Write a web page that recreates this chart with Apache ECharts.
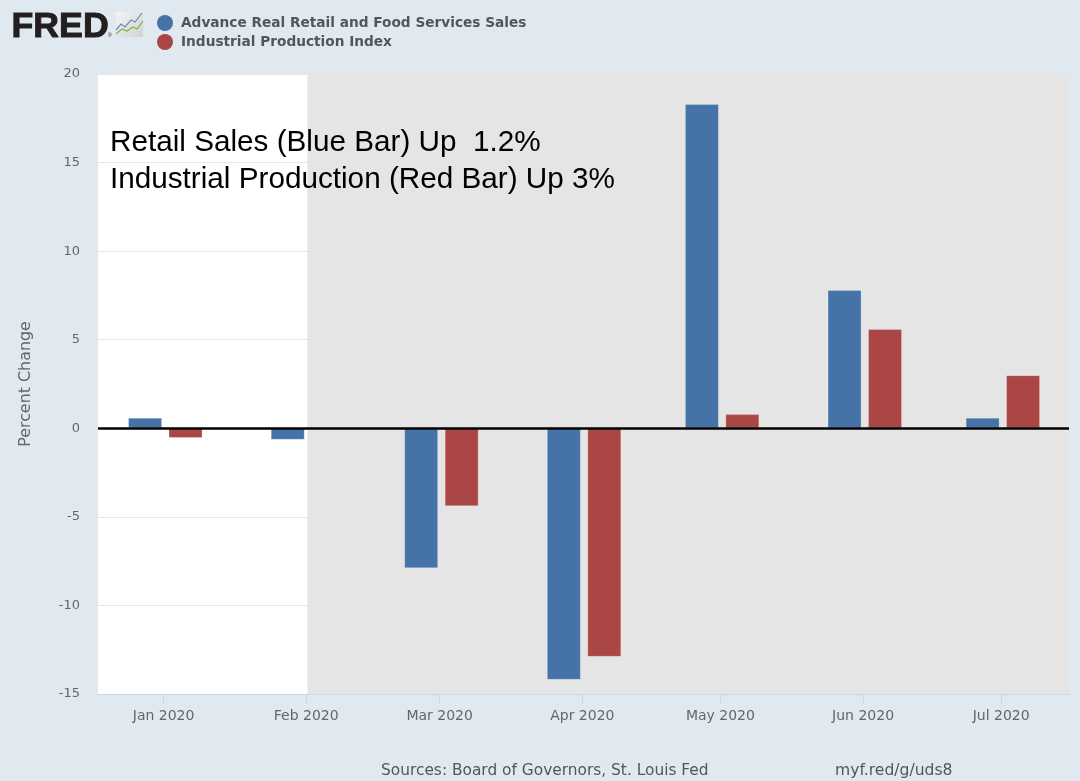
<!DOCTYPE html>
<html><head><meta charset="utf-8">
<style>html,body{margin:0;padding:0;background:#E1E9F0}#c{width:1080px;height:781px}</style>
<script src="https://cdn.jsdelivr.net/npm/echarts@6/dist/echarts.min.js"></script>
</head><body><div id="c"></div>
<script>
const months = ['2020-01-01','2020-02-01','2020-03-01','2020-04-01','2020-05-01','2020-06-01','2020-07-01'];
const tickLabels = ['Jan 2020','Feb 2020','Mar 2020','Apr 2020','May 2020','Jun 2020','Jul 2020'];
const retailName = 'Advance Real Retail and Food Services Sales';
const industrialName = 'Industrial Production Index';
const retail = [0.6,-0.65,-7.9,-14.2,18.3,7.8,0.6];
const industrial = [-0.55,null,-4.4,-12.9,0.8,5.6,3.0];
const xMin = '2019-12-17T18:00:00', xMax = '2020-07-15T18:00:00';
const recessionStart = '2020-02-01T06:00:00';
const notes = ['Retail Sales (Blue Bar) Up  1.2%','Industrial Production (Red Bar) Up 3%'];
const sourceText = 'Sources: Board of Governors, St. Louis Fed';
const linkText = 'myf.red/g/uds8';

const t = s => Date.parse(s.length > 10 ? s + 'Z' : s + 'T00:00:00Z');
const barShift = 9 * 3600 * 1000; // bars sit slightly right of their tick, as in the source
const pairs = arr => months.map((m,i)=>[t(m)+barShift, arr[i]]);
const monthTicks = months.map(t);
const font = '"DejaVu Sans"';
const chart = echarts.init(document.getElementById('c'),null,{renderer:'canvas'});
chart.setOption({
  animation:false,
  backgroundColor:'#E1E9F0',
  grid:{left:98,right:11,top:74,bottom:87,show:true,backgroundColor:'#fff',borderWidth:0},
  legend:{
    orient:'vertical',left:152,top:10,itemWidth:16,itemHeight:16,itemGap:3,icon:'circle',
    selectedMode:false,
    data:[{name:retailName,itemStyle:{color:'#4572A7',borderWidth:0}},{name:industrialName,itemStyle:{color:'#AA4643',borderWidth:0}}],
    textStyle:{fontFamily:font,fontWeight:'bold',fontSize:13.7,color:'#555',padding:[0,0,0,3]}
  },
  xAxis:{
    type:'value',min:t(xMin),max:t(xMax),scale:true,
    axisLine:{show:true,onZero:false,lineStyle:{color:'#ccd6eb',width:1}},
    axisTick:{show:true,length:10,customValues:monthTicks,lineStyle:{color:'#ccd6eb'}},
    splitLine:{show:false},
    axisLabel:{
      customValues:monthTicks,margin:15,hideOverlap:false,
      fontFamily:font,fontSize:14,color:'#666',
      formatter:v=>tickLabels[monthTicks.indexOf(v)]
    }
  },
  yAxis:{
    type:'value',min:-15,max:20,interval:5,
    name:'Percent Change',nameLocation:'middle',nameGap:64,
    nameTextStyle:{fontFamily:font,fontSize:15.9,color:'#666'},
    axisLine:{show:false},axisTick:{show:false},
    axisLabel:{margin:18,padding:[2,0,0,0],fontFamily:font,fontSize:13,color:'#666'},
    splitLine:{show:true,lineStyle:{color:'#e6e6e6',width:1}}
  },
  series:[
    {type:'line',name:'shade',z:1,data:[],silent:true,
     markArea:{silent:true,itemStyle:{color:'#E5E5E5'},data:[[{xAxis:t(recessionStart)},{xAxis:t(xMax)}]]}},
    {type:'bar',name:retailName,z:3,data:pairs(retail),barWidth:34,barGap:'19%',
     itemStyle:{color:'#4572A7',borderColor:'rgba(255,255,255,0.25)',borderWidth:1}},
    {type:'bar',name:industrialName,z:3,data:pairs(industrial),barWidth:34,barGap:'19%',
     itemStyle:{color:'#AA4643',borderColor:'rgba(255,255,255,0.25)',borderWidth:1}},
    {type:'line',name:'zero',z:6,data:[],silent:true,
     markLine:{silent:true,symbol:'none',label:{show:false},lineStyle:{color:'#000',width:2.5,type:'solid'},data:[{yAxis:0}]}}
  ],
  graphic:[
    {type:'text',left:110,top:128,z:10,style:{text:notes[0],font:'29.7px "Liberation Sans"',fill:'#000'}},
    {type:'text',left:110,top:165,z:10,style:{text:notes[1],font:'29.7px "Liberation Sans"',fill:'#000'}},
    {type:'text',left:381,top:763,z:10,style:{text:sourceText,font:'15.4px "DejaVu Sans"',fill:'#555'}},
    {type:'text',left:835,top:763,z:10,style:{text:linkText,font:'15.6px "DejaVu Sans"',fill:'#555'}},
    {type:'text',left:11,top:9,z:10,style:{text:'FRED',font:'bold 35.7px "Liberation Sans"',fill:'#231f20',stroke:'#231f20',lineWidth:1}},
    {type:'text',left:108,top:33,z:10,style:{text:'®',font:'5px "Liberation Sans"',fill:'#231f20'}},
    {type:'rect',z:10,shape:{x:116,y:12,width:27,height:25,r:1},style:{fill:new echarts.graphic.LinearGradient(0,0,1,1,[{offset:0,color:'#f4f4f4'},{offset:1,color:'#d2d2d2'}])}},
    {type:'polyline',z:11,shape:{points:[[116,30],[121,24],[125,27],[131,20],[135,22],[142,13]]},style:{stroke:'#5f93bd',fill:null,lineWidth:1.2}},
    {type:'polyline',z:11,shape:{points:[[116,34],[122,29],[127,31],[133,27],[137,29],[143,21]]},style:{stroke:'#7fae4f',fill:null,lineWidth:1.2}}
  ]
});
</script></body></html>
